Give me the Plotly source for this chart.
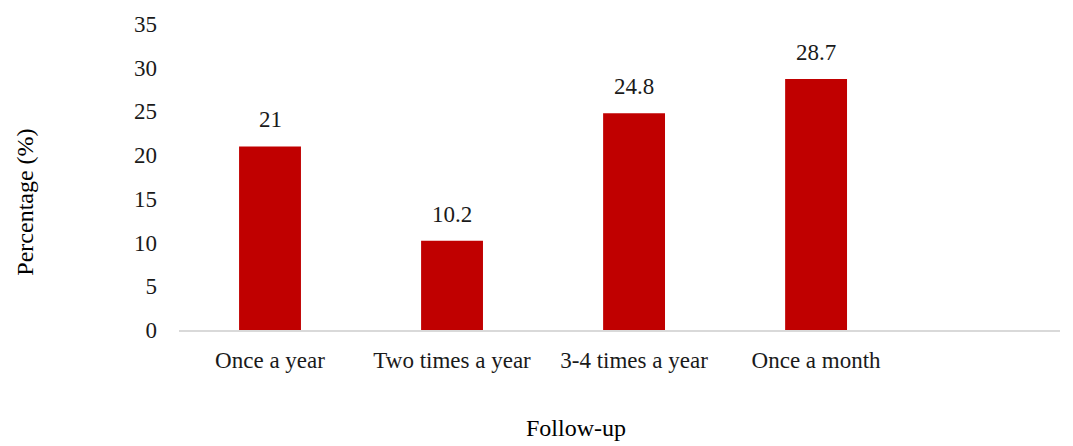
import plotly.graph_objects as go

categories = ["Once a year", "Two times a year", "3-4 times a year", "Once a month"]
values = [21, 10.2, 24.8, 28.7]
value_labels = ["21", "10.2", "24.8", "28.7"]
y_ticks = [0, 5, 10, 15, 20, 25, 30, 35]

FONT = "Liberation Serif"
xs = list(range(len(categories)))

fig = go.Figure()
fig.add_trace(go.Bar(
    x=xs, y=values, width=0.34,
    marker=dict(color="#C00000", line=dict(width=0)),
    hoverinfo="skip",
))
for x, v, t in zip(xs, values, value_labels):
    fig.add_annotation(x=x, y=v, text=t, showarrow=False, yanchor="bottom",
                       yshift=12, font=dict(family=FONT, size=23, color="#1a1a1a"))

fig.add_annotation(xref="paper", yref="paper", x=(576 - 179) / 881, y=-0.32,
                   text="Follow-up", showarrow=False, xanchor="center", yanchor="middle",
                   font=dict(family=FONT, size=24, color="#000000"))
fig.add_annotation(xref="paper", yref="paper", x=(25 - 179) / 881, y=(330 - 201) / 310,
                   text="Percentage (%)", showarrow=False, textangle=-90,
                   xanchor="center", yanchor="middle",
                   font=dict(family=FONT, size=24, color="#000000"))

fig.update_layout(
    width=1073, height=446,
    margin=dict(l=179, r=13, t=20, b=116),
    paper_bgcolor="white", plot_bgcolor="white",
    showlegend=False,
    font=dict(family=FONT, size=23, color="#1a1a1a"),
    xaxis=dict(
        tickmode="array", tickvals=xs, ticktext=categories,
        range=[-0.5, 4.34], showgrid=False, zeroline=False,
        showline=True, linecolor="#d9d9d9", linewidth=1.5,
        ticks="", ticklabelstandoff=9,
        tickfont=dict(family=FONT, size=23, color="#1a1a1a"),
    ),
    yaxis=dict(
        range=[0, 35], tickmode="array", tickvals=y_ticks,
        showgrid=False, zeroline=False, showline=False, ticks="",
        ticklabelstandoff=21,
        tickfont=dict(family=FONT, size=23, color="#1a1a1a"),
    ),
)

fig.write_html("out.html")
